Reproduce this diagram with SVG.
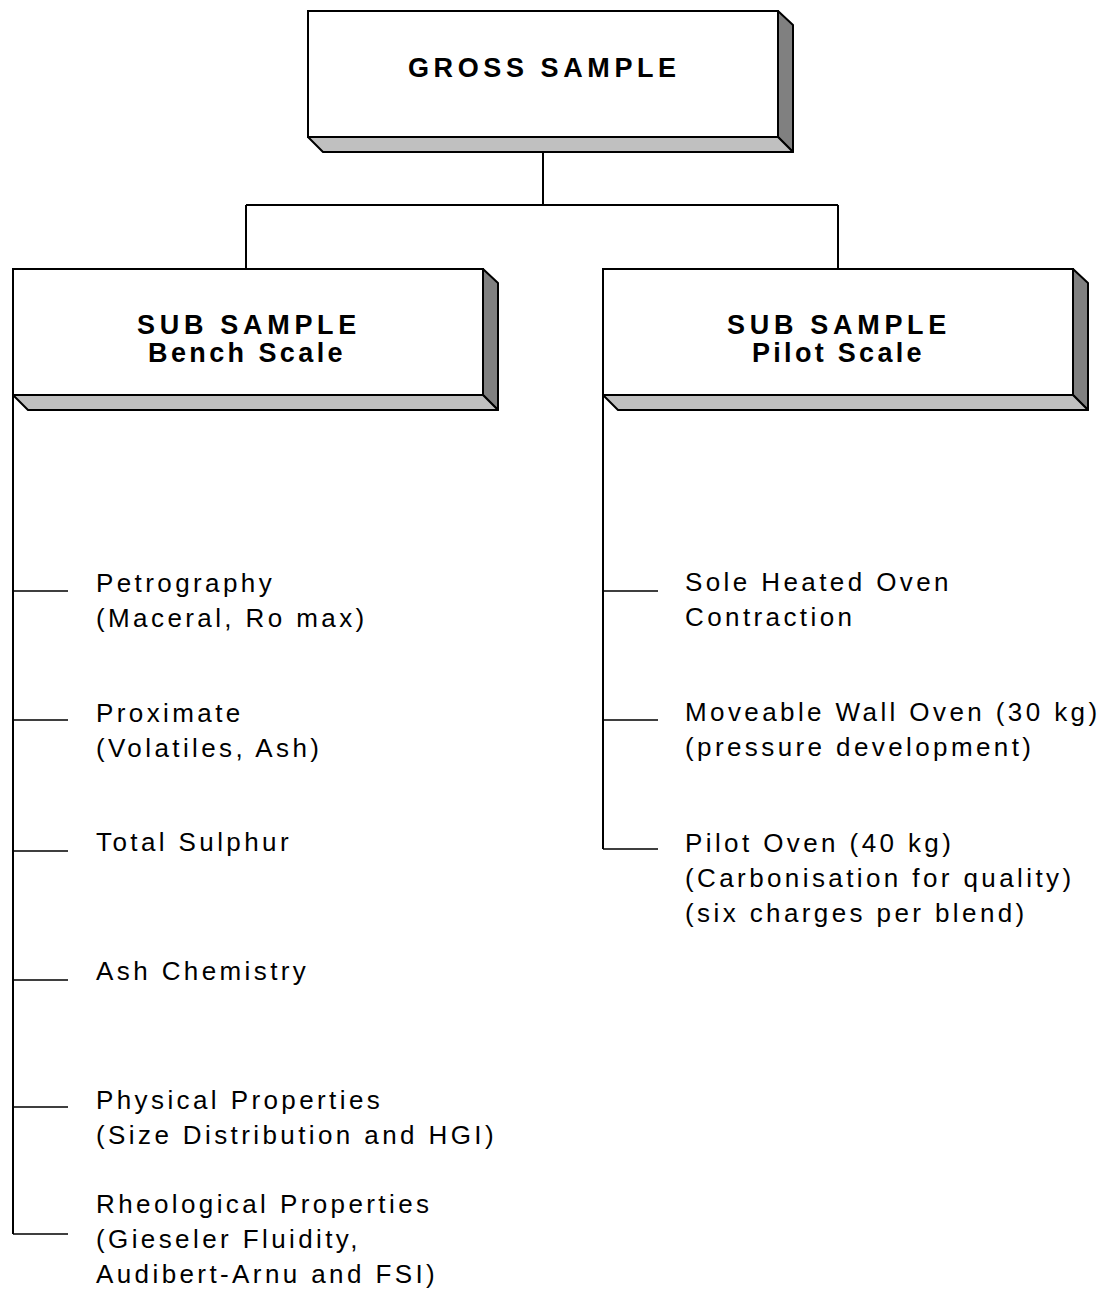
<svg xmlns="http://www.w3.org/2000/svg" width="1107" height="1292" viewBox="0 0 1107 1292">
<style>
.front{fill:#fff;stroke:#000;stroke-width:2}
.side{fill:#808080;stroke:#000;stroke-width:2;stroke-linejoin:round}
.bot{fill:#c0c0c0;stroke:#000;stroke-width:2;stroke-linejoin:round}
.hd{font-family:"Liberation Sans",Arial,sans-serif;font-weight:bold;font-size:27px;fill:#000}
.tx{font-family:"Liberation Sans",Arial,sans-serif;font-size:26px;letter-spacing:3.4px;fill:#000}
.ln{stroke:#000;stroke-width:2;fill:none}
.br{stroke:#000;stroke-width:1.6;fill:none}
</style>
<rect width="1107" height="1292" fill="#fff"/>
<g id="connectors">
<path class="ln" d="M543,137 V205 M246,205 H838 M246,205 V269 M838,205 V269"/>
<path class="ln" d="M13,395 V1234"/>
<path class="br" d="M13,591 H68 M13,720 H68 M13,851 H68 M13,980 H68 M13,1107 H68 M13,1234 H68"/>
<path class="ln" d="M603,395 V849"/>
<path class="br" d="M603,591 H658 M603,720 H658 M603,849 H658"/>
</g>
<g id="gross">
<polygon class="side" points="778,11 793,25 793,152 778,137"/>
<polygon class="bot" points="308,137 778,137 793,152 323,152"/>
<rect class="front" x="308" y="11" width="470" height="126"/>
<text class="hd" x="408" y="77" letter-spacing="4.6">GROSS SAMPLE</text>
</g>
<g id="bench">
<polygon class="side" points="483,269 498,283 498,410 483,395"/>
<polygon class="bot" points="13,395 483,395 498,410 28,410"/>
<rect class="front" x="13" y="269" width="470" height="126"/>
<text class="hd" x="137" y="334" letter-spacing="4.7">SUB SAMPLE</text>
<text class="hd" x="148" y="362" letter-spacing="3.4">Bench Scale</text>
</g>
<g id="pilot">
<polygon class="side" points="1073,269 1088,283 1088,410 1073,395"/>
<polygon class="bot" points="603,395 1073,395 1088,410 618,410"/>
<rect class="front" x="603" y="269" width="470" height="126"/>
<text class="hd" x="727" y="334" letter-spacing="4.7">SUB SAMPLE</text>
<text class="hd" x="752" y="362" letter-spacing="3.3">Pilot Scale</text>
</g>
<g id="petrography"><text class="tx" x="96" y="592">Petrography</text><text class="tx" x="96" y="627">(Maceral, Ro max)</text></g>
<g id="proximate"><text class="tx" x="96" y="722">Proximate</text><text class="tx" x="96" y="757">(Volatiles, Ash)</text></g>
<g id="sulphur"><text class="tx" x="96" y="851">Total Sulphur</text></g>
<g id="ash"><text class="tx" x="96" y="980">Ash Chemistry</text></g>
<g id="physical"><text class="tx" x="96" y="1109">Physical Properties</text><text class="tx" x="96" y="1144">(Size Distribution and HGI)</text></g>
<g id="rheological"><text class="tx" x="96" y="1213">Rheological Properties</text><text class="tx" x="96" y="1248">(Gieseler Fluidity,</text><text class="tx" x="96" y="1283">Audibert-Arnu and FSI)</text></g>
<g id="sole"><text class="tx" x="685" y="591">Sole Heated Oven</text><text class="tx" x="685" y="626">Contraction</text></g>
<g id="moveable"><text class="tx" x="685" y="721">Moveable Wall Oven (30 kg)</text><text class="tx" x="685" y="756">(pressure development)</text></g>
<g id="pilotoven"><text class="tx" x="685" y="852">Pilot Oven (40 kg)</text><text class="tx" x="685" y="887">(Carbonisation for quality)</text><text class="tx" x="685" y="922">(six charges per blend)</text></g>
</svg>
